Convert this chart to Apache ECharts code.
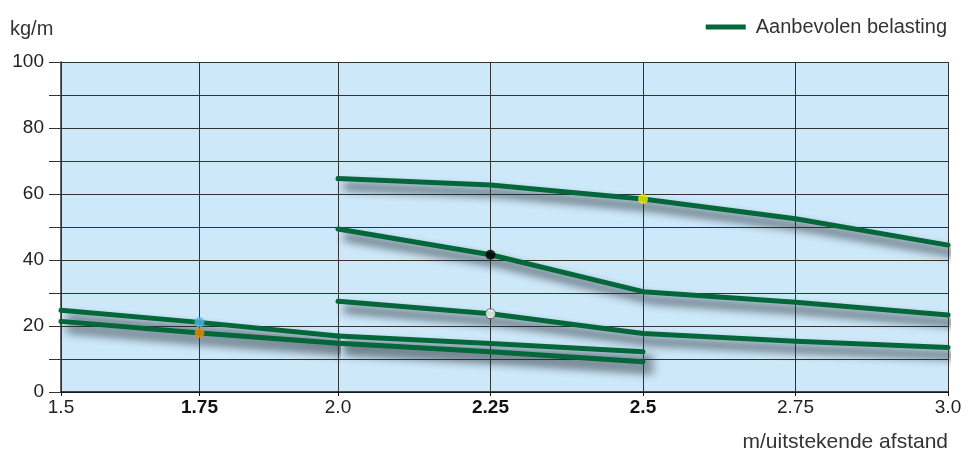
<!DOCTYPE html>
<html>
<head>
<meta charset="utf-8">
<script src="https://cdn.jsdelivr.net/npm/echarts@6/dist/echarts.min.js"></script>
<style>
html,body{margin:0;padding:0;background:#fff;}
#chart{width:969px;height:462px;}
</style>
</head>
<body>
<div id="chart"></div>
<script>
// ---- data ----
const xTickLabels = ['1.5', '1.75', '2.0', '2.25', '2.5', '2.75', '3.0'];
const boldTicks = ['1.75', '2.25', '2.5'];
const xLong = [2.0, 2.25, 2.5, 2.75, 3.0];
const xShort = [1.5, 1.75, 2.0, 2.25, 2.5];
const line1 = [64.7, 62.7, 58.5, 52.5, 44.5];
const line2 = [49.4, 41.6, 30.4, 27.2, 23.3];
const line3 = [27.5, 23.7, 17.7, 15.4, 13.5];
const line4 = [24.8, 21.1, 17.0, 14.7, 12.2];
const line5 = [21.4, 17.9, 14.8, 12.2, 9.2];
const markerX = [2.5, 2.25, 2.25, 1.75, 1.75];
const markerLine = [0, 1, 2, 3, 4];
const legendName = 'Aanbevolen belasting';
const yAxisName = 'kg/m';
const xAxisName = 'm/uitstekende afstand';
const xBreak = 2.0; // the reference axis uses a narrower scale left of 2.0

// ---- styles ----
const green = '#04673a';
const markerColors = ['#f7e600', '#000000', '#ffffff', '#4db6e8', '#f08a00'];
const lines = [
  {x: xLong, y: line1}, {x: xLong, y: line2}, {x: xLong, y: line3},
  {x: xShort, y: line4}, {x: xShort, y: line5}
];
const font = 'Liberation Sans, Arial, Helvetica, sans-serif';

const lineStyle = {
  color: green, width: 5, cap: 'round', join: 'round',
  shadowColor: 'rgba(40,48,56,1)', shadowBlur: 10,
  shadowOffsetX: 8, shadowOffsetY: 8
};

const series = [];
lines.forEach(l => {
  const pts = l.x.map((x, i) => [x, l.y[i]]);
  const left = pts.filter(p => p[0] <= xBreak);
  const right = pts.filter(p => p[0] >= xBreak);
  [[left, 0], [right, 1]].forEach(([d, g]) => {
    if (d.length < 2) return;
    series.push({
      name: legendName, type: 'line', data: d,
      xAxisIndex: g, yAxisIndex: g,
      showSymbol: false, symbol: 'none', clip: false,
      itemStyle: {color: green}, lineStyle: lineStyle, z: 3, silent: true
    });
  });
});

markerX.forEach((x, k) => {
  const l = lines[markerLine[k]];
  const idx = l.x.indexOf(x);
  const g = x < xBreak ? 0 : 1;
  series.push({
    type: 'scatter', xAxisIndex: g, yAxisIndex: g,
    data: [[x, l.y[idx]]],
    symbol: 'circle', symbolSize: 10, z: 5, silent: true,
    itemStyle: {color: markerColors[k], borderColor: k === 2 ? '#444' : markerColors[k], borderWidth: k === 2 ? 1 : 0}
  });
});

function xLabel(v) {
  const i = Math.round((v - 1.5) / 0.25);
  const t = xTickLabels[i];
  return boldTicks.indexOf(t) >= 0 ? '{b|' + t + '}' : t;
}
const xLabelStyle = {
  margin: 6, formatter: xLabel,
  fontSize: 19, color: '#222', fontFamily: font,
  rich: {b: {fontSize: 19, fontWeight: 'bold', color: '#111', fontFamily: font}}
};
const gridLine = {show: true, lineStyle: {color: '#333', width: 1}};

const chart = echarts.init(document.getElementById('chart'), null, {renderer: 'canvas'});
chart.setOption({
  animation: false,
  backgroundColor: '#ffffff',
  textStyle: {fontFamily: font},
  grid: [
    {left: 61, width: 277, top: 62, bottom: 70, show: true, backgroundColor: '#cde8f9', borderWidth: 0},
    {left: 338, right: 21, top: 62, bottom: 70, show: true, backgroundColor: '#cde8f9', borderWidth: 0}
  ],
  legend: {
    data: [{name: legendName, icon: 'rect', itemStyle: {color: green}}],
    right: 17, top: 12,
    itemWidth: 40, itemHeight: 5,
    textStyle: {fontSize: 20, color: '#333', fontFamily: font, padding: [0, 0, 0, 5]}
  },
  graphic: [
    {type: 'text', left: 10, top: 19, style: {text: yAxisName, font: '20px ' + font, fill: '#333'}},
    {type: 'text', right: 21, top: 432, style: {text: xAxisName, font: '21px ' + font, fill: '#333'}}
  ],
  xAxis: [
    {
      gridIndex: 0, type: 'value', min: 1.5, max: xBreak, interval: 0.25,
      axisLine: {show: true, lineStyle: {color: '#111', width: 1.5}},
      axisTick: {show: true, length: 4, lineStyle: {color: '#111'}},
      splitLine: Object.assign({}, gridLine, {showMaxLine: false}),
      axisLabel: Object.assign({}, xLabelStyle, {showMaxLabel: false})
    },
    {
      gridIndex: 1, type: 'value', min: xBreak, max: 3.0, interval: 0.25,
      axisLine: {show: true, lineStyle: {color: '#111', width: 1.5}},
      axisTick: {show: true, length: 4, lineStyle: {color: '#111'}},
      splitLine: gridLine,
      axisLabel: xLabelStyle
    }
  ],
  yAxis: [
    {
      gridIndex: 0, type: 'value', min: 0, max: 100, interval: 10,
      axisLine: {show: true, lineStyle: {color: '#333', width: 1.5}},
      axisTick: {show: true, length: 12, lineStyle: {color: '#333'}},
      splitLine: gridLine,
      axisLabel: {
        margin: 17,
        formatter: v => (v % 20 === 0 ? String(v) : ''),
        fontSize: 19, color: '#222', fontFamily: font
      }
    },
    {
      gridIndex: 1, type: 'value', min: 0, max: 100, interval: 10,
      axisLine: {show: false}, axisTick: {show: false}, axisLabel: {show: false},
      splitLine: gridLine
    }
  ],
  series: series
});
</script>
</body>
</html>
